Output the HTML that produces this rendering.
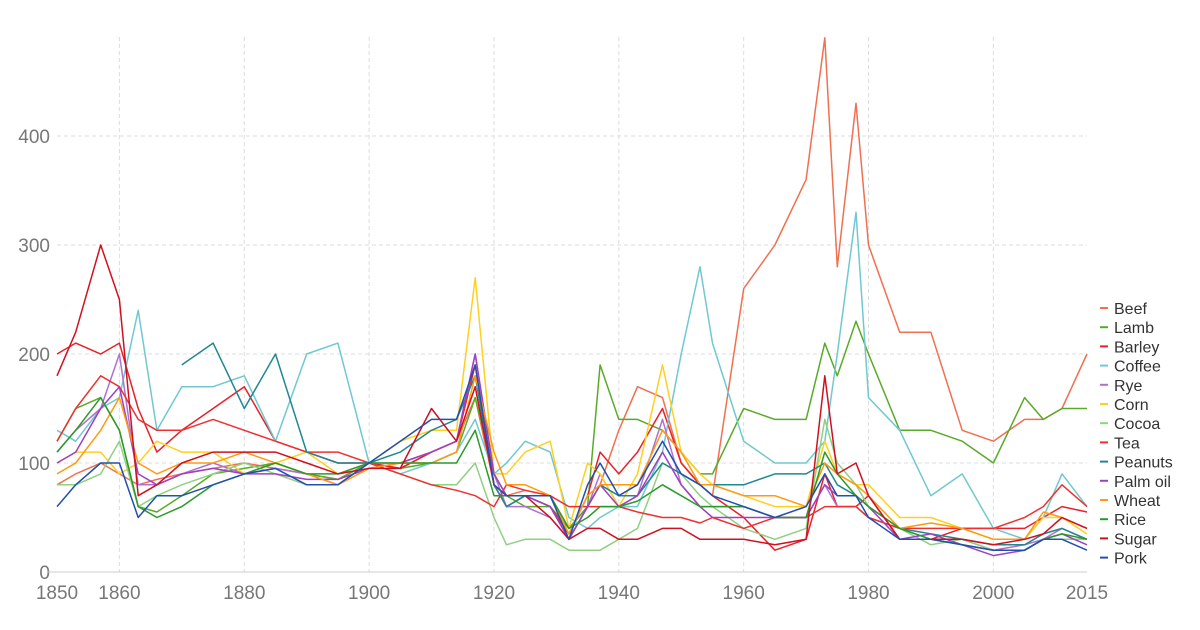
<!DOCTYPE html>
<html><head><meta charset="utf-8">
<style>
html,body{margin:0;padding:0;background:#fff;}
svg{display:block;font-family:"Liberation Sans",sans-serif;}
</style></head>
<body>
<svg id="chart" width="1200" height="630"></svg>
<script>
const years=[1850,1853,1857,1860,1863,1866,1870,1875,1880,1885,1890,1895,1900,1905,1910,1914,1917,1920,1922,1925,1929,1932,1935,1937,1940,1943,1947,1950,1953,1955,1960,1965,1970,1973,1975,1978,1980,1985,1990,1995,2000,2005,2008,2011,2015];
const seriesNames=["Beef","Lamb","Barley","Coffee","Rye","Corn","Cocoa","Tea","Peanuts","Palm oil","Wheat","Rice","Sugar","Pork"];
const beef=[80,90,100,90,80,85,90,95,100,95,90,85,100,95,110,120,160,80,70,75,70,40,60,80,130,170,160,100,80,70,260,300,360,490,280,430,300,220,220,130,120,140,140,150,200];
const lamb=[120,150,160,130,60,55,70,90,95,100,90,85,100,95,100,110,160,90,70,60,60,40,60,190,140,140,130,110,90,90,150,140,140,210,180,230,200,130,130,120,100,160,140,150,150];
const barley=[200,210,200,210,150,110,130,150,170,120,110,100,100,95,110,120,190,80,60,70,60,35,70,110,90,110,150,100,80,70,50,20,30,90,60,60,70,30,30,40,40,40,50,60,55];
const coffee=[130,120,150,160,240,130,170,170,180,120,200,210,100,90,100,110,140,90,100,120,110,50,40,50,60,60,110,200,280,210,120,100,100,120,200,330,160,130,70,90,40,30,50,90,60];
const rye=[110,130,150,200,80,80,90,100,90,95,90,80,100,100,110,120,200,90,60,60,50,30,60,90,60,70,140,80,60,60,60,50,50,80,60,60,50,40,30,30,20,25,30,40,30];
const corn=[100,110,110,90,100,120,110,110,90,100,110,90,100,120,130,130,270,90,90,110,120,40,100,90,60,90,190,110,90,80,70,60,60,120,90,80,80,50,50,40,30,30,50,50,35];
const cocoa=[80,80,90,120,60,70,80,90,100,90,80,80,100,90,80,80,100,50,25,30,30,20,20,20,30,40,100,90,70,60,40,30,40,140,100,80,60,40,25,30,20,20,30,30,30];
const tea=[120,150,180,170,140,130,130,140,130,120,110,110,100,90,80,75,70,60,80,75,70,60,60,60,60,55,50,50,45,50,40,50,50,60,60,60,50,40,40,40,40,50,60,80,60];
const peanuts=[null,null,null,null,null,null,190,210,150,200,110,100,100,110,130,140,180,80,60,70,60,30,60,80,70,70,100,90,80,80,80,90,90,100,80,70,60,40,35,30,25,25,35,40,30];
const palmOil=[100,110,150,170,90,80,90,95,90,90,85,85,95,100,110,120,200,90,70,70,60,30,60,80,60,70,110,80,60,50,50,50,50,80,70,70,60,30,35,25,15,20,30,35,25];
const wheat=[90,100,130,160,100,90,100,100,110,100,90,80,95,100,100,110,180,110,80,80,70,35,70,80,80,80,130,110,80,80,70,70,60,100,90,80,70,40,45,40,30,30,55,50,40];
const rice=[110,130,160,130,60,50,60,80,90,100,90,90,100,100,100,100,130,70,70,70,70,40,50,60,60,65,80,70,60,60,60,50,50,110,90,70,60,40,30,25,20,20,30,35,30];
const sugar=[180,220,300,250,70,80,100,110,110,110,100,90,95,95,150,120,170,80,70,70,50,30,40,40,30,30,40,40,30,30,30,25,30,180,90,100,70,30,30,30,25,30,35,50,40];
const pork=[60,80,100,100,50,70,70,80,90,95,80,80,100,120,140,140,190,80,70,70,70,30,80,100,70,80,120,90,80,70,60,50,60,90,70,70,50,30,30,25,20,20,30,30,20];
const yTicks=[0,100,200,300,400];
const xTicks=[1850,1860,1880,1900,1920,1940,1960,1980,2000,2015];

const allSeries=[beef,lamb,barley,coffee,rye,corn,cocoa,tea,peanuts,palmOil,wheat,rice,sugar,pork];
const colors=["#f07050","#5aaa2a","#e8202a","#70c8d0","#b070d0","#ffd020","#90d080","#f03030","#208890","#a040c0","#ff9a10","#2a9a2a","#d01020","#2050b0"];
const NS="http://www.w3.org/2000/svg";
const svg=document.getElementById('chart');
const x0=57,x1=1087,y0=572,pxPerUnit=1.09;
const xs=y=>x0+(y-1850)*(x1-x0)/165;
const ys=v=>y0-v*pxPerUnit;
function mk(t,a){const e=document.createElementNS(NS,t);for(const k in a)e.setAttribute(k,a[k]);svg.appendChild(e);return e;}

const grid=document.createElementNS(NS,'g');


svg.appendChild(grid);
yTicks.forEach(v=>{
  if(v>0){const l=document.createElementNS(NS,'line');
  l.setAttribute('x1',x0);l.setAttribute('x2',x1);l.setAttribute('y1',ys(v));l.setAttribute('y2',ys(v));
  l.setAttribute('stroke','#ddd');l.setAttribute('stroke-dasharray','4,3');
  
  
  grid.appendChild(l);}
  const t=mk('text',{x:50,y:ys(v)+7,'text-anchor':'end','font-size':19,fill:'#777'});
  t.textContent=v;
  
  
});
xTicks.forEach(yr=>{
  if(yr!==1850&&yr!==2015){const l=document.createElementNS(NS,'line');
  l.setAttribute('x1',xs(yr));l.setAttribute('x2',xs(yr));l.setAttribute('y1',37);l.setAttribute('y2',y0);
  l.setAttribute('stroke','#ddd');l.setAttribute('stroke-dasharray','4,3');
  
  
  grid.appendChild(l);}
  const t=mk('text',{x:xs(yr),y:599,'text-anchor':'middle','font-size':19,fill:'#777'});
  t.textContent=yr;
  
  
});
const ax=mk('line',{x1:x0-10,x2:x1,y1:y0,y2:y0,stroke:'#ccc'});



allSeries.forEach((vals,i)=>{
  let d='',pen=false;
  vals.forEach((v,j)=>{
    if(v===null){pen=false;return;}
    d+=(pen?'L':'M')+xs(years[j]).toFixed(1)+','+ys(v).toFixed(1);pen=true;
  });
  const p=mk('path',{d:d,fill:'none',stroke:colors[i],'stroke-width':1.5,'stroke-linejoin':'round'});
  
  
});

seriesNames.forEach((n,i)=>{
  const yy=308+i*19.2;
  const l=mk('line',{x1:1100,x2:1108,y1:yy,y2:yy,stroke:colors[i],'stroke-width':2});
  
  
  const t=mk('text',{x:1114,y:yy+6,'font-size':16,fill:'#333'});
  t.textContent=n;
  
  
});
</script>
</body></html>
